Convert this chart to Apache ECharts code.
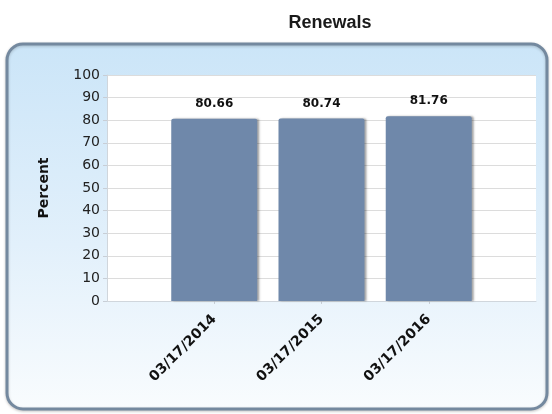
<!DOCTYPE html>
<html>
<head>
<meta charset="utf-8">
<script src="https://cdn.jsdelivr.net/npm/echarts@6/dist/echarts.min.js"></script>
<style>
  html, body { margin: 0; padding: 0; background: #fff; }
  #container { width: 552px; height: 414px; }
</style>
</head>
<body>
<div id="container"></div>
<script>
const categories = ['03/17/2014', '03/17/2015', '03/17/2016']
const renewals = [80.66, 80.74, 81.76]
const yTicks = [0, 10, 20, 30, 40, 50, 60, 70, 80, 90, 100]

// bars sit at 1, 2, 3 on a 0..4 axis, half a slot of padding each side
const barData = renewals.map((v, i) => [i + 1, v])

const myChart = echarts.init(document.getElementById('container'))

const option = {
  backgroundColor: '#fff',
  animation: false,
  title: {
    text: 'Renewals',
    left: 325,
    top: 9,
    textAlign: 'center',
    textStyle: {
      fontFamily: 'Liberation Sans',
      fontSize: 18,
      fontWeight: 'bold',
      color: '#1a1a1a'
    }
  },
  graphic: [
    {
      type: 'rect',
      z: -10,
      shape: { x: 7, y: 44, width: 540, height: 365, r: 16 },
      style: {
        fill: {
          type: 'linear', x: 0, y: 0, x2: 0, y2: 1,
          colorStops: [
            { offset: 0, color: '#cbe5f8' },
            { offset: 0.55, color: '#e2f0fb' },
            { offset: 1, color: '#f9fcfe' }
          ]
        },
        stroke: '#74899f',
        lineWidth: 3,
        shadowColor: 'rgba(0,0,0,0.2)',
        shadowBlur: 3,
        shadowOffsetY: 1
      }
    }
  ],
  grid: {
    left: 107,
    right: 16,
    top: 75,
    bottom: 113,
    show: true,
    backgroundColor: '#fff',
    borderWidth: 0
  },
  xAxis: {
    type: 'value',
    min: 0,
    max: 4,
    interval: 1,
    splitLine: { show: false },
    axisLine: { show: true, lineStyle: { color: '#d0d6dc' } },
    axisTick: {
      show: true,
      customValues: [1, 2, 3],
      length: 3,
      lineStyle: { color: '#c8ced6' }
    },
    axisLabel: {
      customValues: [1, 2, 3],
      rotate: 45,
      margin: 16,
      fontFamily: 'DejaVu Sans',
      fontSize: 14,
      fontWeight: 'bold',
      color: '#111',
      formatter: (v) => categories[v - 1] || ''
    }
  },
  yAxis: {
    type: 'value',
    min: 0,
    max: 100,
    interval: 10,
    name: 'Percent',
    nameLocation: 'middle',
    nameGap: 56,
    nameTextStyle: {
      fontFamily: 'DejaVu Sans',
      fontSize: 14,
      fontWeight: 'bold',
      color: '#111'
    },
    axisLine: { show: true, lineStyle: { color: '#d0d6dc' } },
    axisTick: { show: true, inside: false, length: 4, lineStyle: { color: '#c8ced6' } },
    axisLabel: {
      margin: 7,
      fontFamily: 'DejaVu Sans',
      fontSize: 14,
      color: '#222',
      formatter: (v) => (yTicks.indexOf(v) >= 0 ? String(v) : '')
    },
    splitLine: { show: true, lineStyle: { color: '#dcdcdc', width: 1 } }
  },
  series: [
    {
      name: 'Renewals',
      type: 'bar',
      data: barData,
      barWidth: 86,
      itemStyle: {
        color: '#6f88aa',
        borderRadius: [2, 2, 0, 0],
        shadowColor: 'rgba(0,0,0,0.35)',
        shadowBlur: 2,
        shadowOffsetX: 2,
        shadowOffsetY: 0
      },
      label: {
        show: true,
        position: 'top',
        distance: 9,
        fontFamily: 'DejaVu Sans',
        fontSize: 12,
        fontWeight: 'bold',
        color: '#111',
        formatter: (p) => p.value[1].toFixed(2)
      }
    }
  ]
}

myChart.setOption(option, true)
window.addEventListener('resize', () => {
  myChart.resize()
})
</script>
</body>
</html>
